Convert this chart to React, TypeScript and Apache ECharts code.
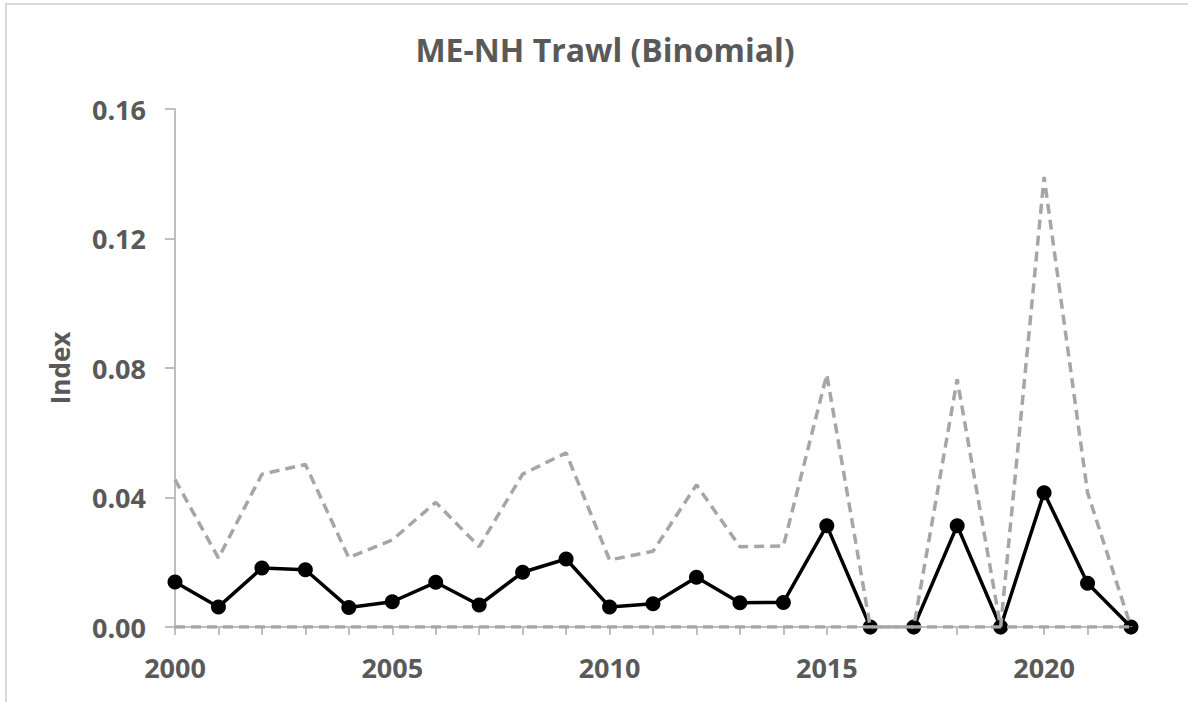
import React, { useEffect, useRef } from "react";
import * as echarts from "echarts";

const years = [
  "2000", "2001", "2002", "2003", "2004", "2005", "2006", "2007", "2008", "2009", "2010",
  "2011", "2012", "2013", "2014", "2015", "2016", "2017", "2018", "2019", "2020", "2021", "2022",
];

const indexValues = [
  0.0139, 0.0062, 0.0182, 0.0177, 0.006, 0.0078, 0.0138, 0.0068, 0.0169, 0.021, 0.0062,
  0.0072, 0.0154, 0.0075, 0.0076, 0.0313, 0, 0, 0.0313, 0, 0.0415, 0.0135, 0,
];

const upperCI = [
  0.0455, 0.0213, 0.0472, 0.0502, 0.0214, 0.0269, 0.0385, 0.0248, 0.0472, 0.0538, 0.0207,
  0.0234, 0.0439, 0.0248, 0.025, 0.078, 0, 0, 0.0765, 0, 0.139, 0.0415, 0,
];

const lowerCI = [
  0, 0, 0, 0, 0, 0, 0, 0, 0, 0, 0, 0, 0, 0, 0, 0, 0, 0, 0, 0, 0, 0, 0,
];

// the index line is drawn with a break between these two years
const breakAfter = "2016";

const yTicks = { min: 0, max: 0.16, interval: 0.04 };

const title = "ME-NH Trawl (Binomial)";
const yName = "Index";

export default function App() {
  const ref = useRef<HTMLDivElement>(null);

  useEffect(() => {
    document.body.style.margin = "0";
    if (!ref.current) return;
    const chart = echarts.init(ref.current, null, { renderer: "svg" });
    const breakIdx = years.indexOf(breakAfter);
    const firstPart = indexValues.map((v, i) => (i <= breakIdx ? v : null));
    const secondPart = indexValues.map((v, i) => (i > breakIdx ? v : null));
    const font = "'Open Sans', 'Noto Sans', sans-serif";
    const labelColor = "#595959";
    const ciStyle = { color: "#a6a6a6", width: 3.5, type: [10, 6] as number[] };
    const indexSeries = (data: (number | null)[], name: string) => ({
      type: "line",
      name,
      data,
      connectNulls: false,
      symbol: "circle",
      symbolSize: 15,
      itemStyle: { color: "#000000" },
      lineStyle: { color: "#000000", width: 3.5 },
      z: 2,
    });
    chart.setOption({
      animation: false,
      backgroundColor: "#ffffff",
      title: {
        text: title,
        left: 600,
        textAlign: "center",
        top: 28,
        textStyle: { fontFamily: font, fontSize: 32, fontWeight: "bold", color: labelColor },
      },
      graphic: [
        {
          type: "rect",
          shape: { x: 6, y: 4, width: 1400, height: 900 },
          style: { fill: "none", stroke: "#d9d9d9", lineWidth: 2 },
          silent: true,
          z: -1,
        },
      ],
      grid: { left: 175, top: 109, right: 57, bottom: 75, containLabel: false },
      xAxis: {
        type: "category",
        data: years,
        boundaryGap: false,
        axisLine: { lineStyle: { color: "#bfbfbf", width: 2 } },
        axisTick: { show: true, interval: 0, length: 8, lineStyle: { color: "#bfbfbf", width: 2 } },
        axisLabel: {
          interval: 4,
          margin: 27,
          fontFamily: font,
          fontSize: 27,
          fontWeight: "bold",
          color: labelColor,
        },
        splitLine: { show: false },
      },
      yAxis: {
        type: "value",
        min: yTicks.min,
        max: yTicks.max,
        interval: yTicks.interval,
        name: yName,
        nameLocation: "middle",
        nameRotate: 90,
        nameGap: 102,
        nameTextStyle: { fontFamily: font, fontSize: 26, fontWeight: "bold", color: labelColor },
        axisLine: { show: true, lineStyle: { color: "#bfbfbf", width: 2 } },
        axisTick: { show: true, length: 10, lineStyle: { color: "#bfbfbf", width: 2 } },
        axisLabel: {
          margin: 29,
          fontFamily: font,
          fontSize: 27,
          fontWeight: "bold",
          color: labelColor,
          formatter: (v: number) => v.toFixed(2),
        },
        splitLine: { show: false },
      },
      series: [
        indexSeries(firstPart, "Index"),
        indexSeries(secondPart, "Index "),
        {
          type: "line",
          name: "Lower CI",
          data: lowerCI,
          symbol: "none",
          lineStyle: ciStyle,
          z: 3,
        },
        {
          type: "line",
          name: "Upper CI",
          data: upperCI,
          symbol: "none",
          lineStyle: ciStyle,
          z: 3,
        },
      ],
    });
    return () => chart.dispose();
  }, []);

  return <div ref={ref} style={{ width: 1188, height: 702 }} />;
}
